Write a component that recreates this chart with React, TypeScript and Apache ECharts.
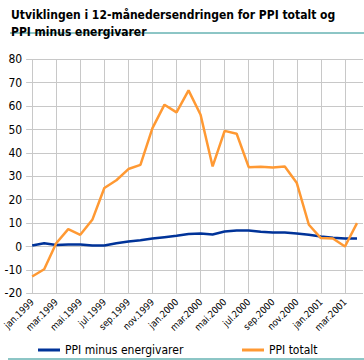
import React, { useEffect, useRef } from "react";
import * as echarts from "echarts";

const months = ["jan", "feb", "mar", "apr", "mai", "jun", "jul", "aug", "sep", "okt", "nov", "des"];
const categories: string[] = [];
for (const yr of [1999, 2000, 2001]) {
  for (const m of months) categories.push(`${m}.${yr}`);
}
const cats = categories.slice(0, 28);

const ppiMinusEnergi = [0.4, 1.4, 0.6, 0.9, 0.9, 0.4, 0.4, 1.4, 2.1, 2.7, 3.4, 4.0, 4.6, 5.3, 5.6, 5.1, 6.4, 6.8, 6.8, 6.3, 6.0, 6.0, 5.6, 5.0, 4.3, 3.7, 3.4, 3.4];
const ppiTotalt = [-12.8, -9.7, 1.4, 7.4, 5.0, 11.4, 25.0, 28.3, 33.1, 34.9, 50.6, 60.6, 57.3, 66.7, 56.3, 34.2, 49.4, 48.2, 33.9, 34.1, 33.8, 34.2, 27.1, 9.3, 3.6, 3.4, 0.0, 10.0];

const titleText = "Utviklingen i 12-månedersendringen for PPI totalt og\nPPI minus energivarer";
const seriesNames = ["PPI minus energivarer", "PPI totalt"];
const FONT = "DejaVu Sans Condensed";

export default function App() {
  const ref = useRef<HTMLDivElement>(null);
  useEffect(() => {
    if (!ref.current) return;
    const chart = echarts.init(ref.current, null, { renderer: "svg" });
    chart.setOption({
      animation: false,
      backgroundColor: "#ffffff",
      title: {
        text: titleText,
        left: 6,
        top: 1,
        textStyle: { fontFamily: FONT, fontSize: 12, fontWeight: "bold", color: "#000", lineHeight: 17 },
      },
      graphic: [
        { type: "line", shape: { x1: 10, y1: 33, x2: 364, y2: 33 }, style: { stroke: "#1a8c8c", lineWidth: 1 } },
        { type: "line", shape: { x1: 8, y1: 359, x2: 364, y2: 359 }, style: { stroke: "#1a8c8c", lineWidth: 1 } },
      ],
      legend: [
        {
          data: [seriesNames[0]],
          left: 33,
          top: 339,
          icon: "rect",
          itemWidth: 22,
          itemHeight: 3,
          itemGap: 7,
          textStyle: { fontFamily: FONT, fontSize: 12, color: "#000" },
        },
        {
          data: [seriesNames[1]],
          left: 237,
          top: 339,
          icon: "rect",
          itemWidth: 22,
          itemHeight: 3,
          textStyle: { fontFamily: FONT, fontSize: 12, color: "#000" },
        },
      ],
      grid: { left: 25, right: 1, top: 59.3, bottom: 66.7, containLabel: false },
      xAxis: {
        type: "category",
        data: cats,
        boundaryGap: true,
        axisLine: { show: true, lineStyle: { color: "#c8c8c8" } },
        axisTick: { show: false, alignWithLabel: true },
        splitLine: { show: true, alignWithLabel: true, lineStyle: { color: "#c8c8c8", width: 1 } },
        axisLabel: { interval: 1, rotate: 45, fontFamily: FONT, fontSize: 9.5, color: "#000", margin: 7 },
      },
      yAxis: {
        type: "value",
        min: -20,
        max: 80,
        interval: 10,
        axisLine: { show: false },
        axisTick: { show: false },
        splitLine: { show: true, lineStyle: { color: "#c8c8c8", width: 1 } },
        axisLabel: { fontFamily: FONT, fontSize: 12, color: "#000", margin: 4 },
      },
      series: [
        {
          name: seriesNames[0],
          type: "line",
          data: ppiMinusEnergi,
          symbol: "none",
          lineStyle: { color: "#003399", width: 2.5 },
          itemStyle: { color: "#003399" },
        },
        {
          name: seriesNames[1],
          type: "line",
          data: ppiTotalt,
          symbol: "none",
          lineStyle: { color: "#ff9933", width: 2.5 },
          itemStyle: { color: "#ff9933" },
        },
      ],
    });
    return () => chart.dispose();
  }, []);
  return <div ref={ref} style={{ position: "absolute", left: 0, top: 0, width: 364, height: 360 }} />;
}
